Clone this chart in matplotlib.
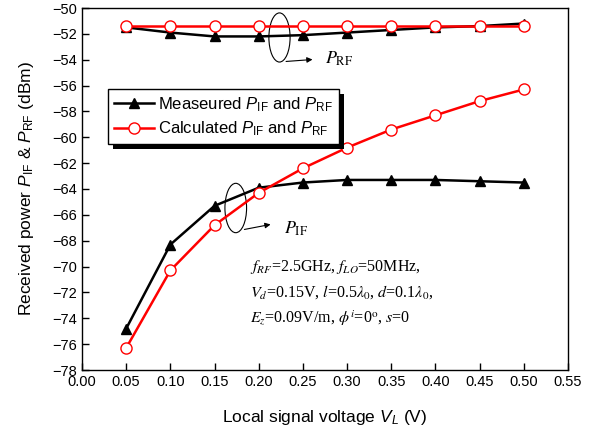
import matplotlib
matplotlib.use('Agg')
import matplotlib.pyplot as plt
from matplotlib.patches import Ellipse, Rectangle
from matplotlib.transforms import IdentityTransform

plt.rcParams['font.family'] = ['Liberation Sans', 'DejaVu Sans']
plt.rcParams['mathtext.fontset'] = 'custom'
plt.rcParams['mathtext.rm'] = 'Liberation Sans'
plt.rcParams['mathtext.it'] = 'Liberation Sans:italic'

# local signal voltage V_L (V)
v_l = [0.05, 0.10, 0.15, 0.20, 0.25, 0.30, 0.35, 0.40, 0.45, 0.50]

# received power (dBm)
meas_rf = [-51.5, -51.9, -52.2, -52.2, -52.1, -51.9, -51.7, -51.5, -51.4, -51.2]
calc_rf = [-51.4, -51.4, -51.4, -51.4, -51.4, -51.4, -51.4, -51.4, -51.4, -51.4]
meas_if = [-74.8, -68.3, -65.3, -63.9, -63.5, -63.3, -63.3, -63.3, -63.4, -63.5]
calc_if = [-76.3, -70.3, -66.8, -64.3, -62.4, -60.8, -59.4, -58.3, -57.2, -56.3]

x_ticks = [0.00, 0.05, 0.10, 0.15, 0.20, 0.25, 0.30, 0.35, 0.40, 0.45, 0.50, 0.55]
y_ticks = list(range(-78, -49, 2))

fig = plt.figure(figsize=(6.02, 4.29), dpi=100)
ax = fig.add_axes([82/602, 59/429, 486/602, 362/429])

meas_style = dict(color='black', lw=1.8, marker='^', ms=7, mfc='black', mec='black')
calc_style = dict(color='red', lw=1.8, marker='o', ms=8, mfc='white', mec='red', mew=1.0)

ax.plot(v_l, calc_rf, zorder=3, **calc_style)
ax.plot(v_l, meas_rf, label=r'Measeured $P_{\rm IF}$ and $P_{\rm RF}$', zorder=2, **meas_style)
ax.plot(v_l, meas_if, zorder=2, **meas_style)
ax.plot(v_l, calc_if, label=r'Calculated $P_{\rm IF}$ and $P_{\rm RF}$', zorder=3, **calc_style)

ax.set_xlim(0, 0.55)
ax.set_ylim(-78, -50)
ax.set_xticks(x_ticks)
ax.set_xticklabels(['%.2f' % t for t in x_ticks])
ax.set_yticks(y_ticks)
ax.tick_params(direction='in', length=5, width=1, labelsize=10.5, top=False, right=False)
for s in ax.spines.values():
    s.set_linewidth(1.0)

ax.set_xlabel(r'Local signal voltage $V_L$ (V)', fontsize=12.5, labelpad=14)
ax.set_ylabel(r'Received power $P_{\rm IF}$ & $P_{\rm RF}$ (dBm)', fontsize=12.5, labelpad=12)

# ellipses and arrows marking the two groups
ax.add_patch(Ellipse((0.2235, -52.28), 0.024, 3.8, fill=False, ec='black', lw=0.8))
ax.annotate('', xy=(0.264, -53.97), xytext=(0.2278, -54.15),
            arrowprops=dict(arrowstyle='-|>', color='black', lw=0.8, mutation_scale=8))
ax.text(0.275, -53.95, r'$P_{\rm RF}$', fontsize=13, math_fontfamily='stix', va='center')

ax.add_patch(Ellipse((0.174, -65.47), 0.0245, 3.82, fill=False, ec='black', lw=0.8))
ax.annotate('', xy=(0.2165, -66.7), xytext=(0.1807, -67.17),
            arrowprops=dict(arrowstyle='-|>', color='black', lw=0.8, mutation_scale=8))
ax.text(0.2288, -67.1, r'$P_{\rm IF}$', fontsize=13, math_fontfamily='stix', va='center')

# parameter block
params = [r'$f_{RF}$=2.5GHz, $f_{LO}$=50MHz,',
          r'$V_d$=0.15V, $l$=0.5$\lambda_0$, $d$=0.1$\lambda_0$,',
          r'$E_z$=0.09V/m, $\phi^i$=0$^{\rm o}$, $s$=0']
for i, line in enumerate(params):
    ax.text(0.19, -70 - 2 * i, line, family='Liberation Serif', math_fontfamily='stix',
            fontsize=11.5, va='center')

leg = ax.legend(loc='upper left', bbox_to_anchor=(0.0535, 0.776), borderaxespad=0,
                fontsize=12, fancybox=False, framealpha=1, edgecolor='black',
                handlelength=2.4, handletextpad=0.25, borderpad=0.35, labelspacing=0.35)
leg.get_frame().set_linewidth(1.0)
leg.set_zorder(10)

fig.canvas.draw()
bb = leg.get_frame().get_window_extent()
shadow = Rectangle((bb.x0 + 5, bb.y0 - 5), bb.width, bb.height, transform=IdentityTransform(),
                   fc='black', ec='none', zorder=9)
ax.add_artist(shadow)

fig.savefig('out.png', dpi=100)
